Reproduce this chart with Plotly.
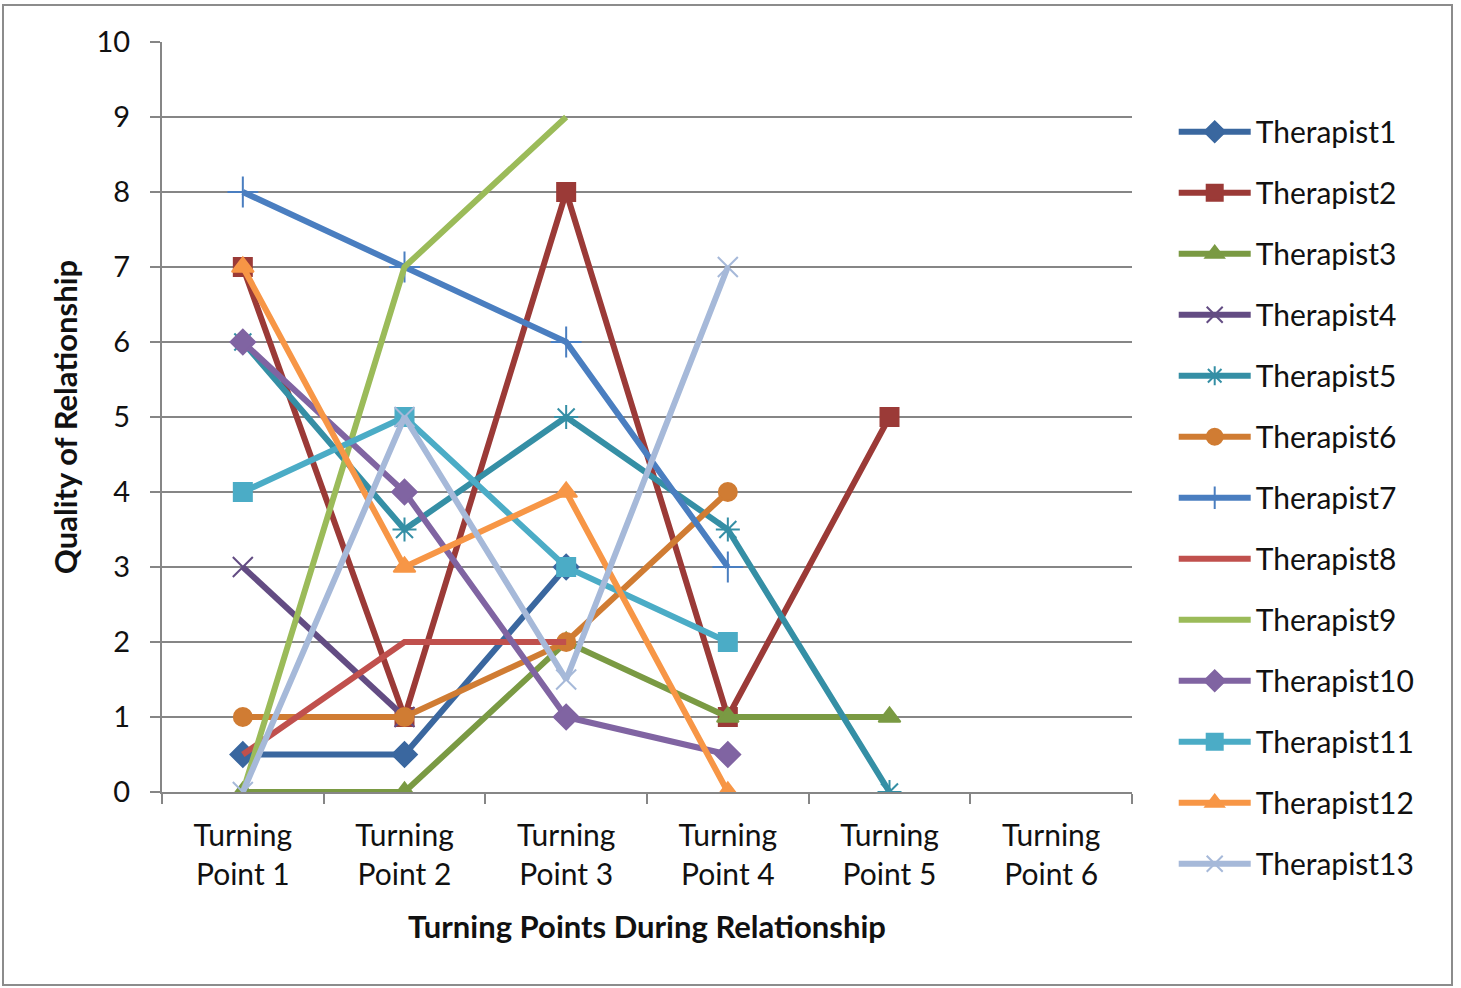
import plotly.graph_objects as go

categories = ["Turning<br>Point 1", "Turning<br>Point 2", "Turning<br>Point 3",
              "Turning<br>Point 4", "Turning<br>Point 5", "Turning<br>Point 6"]

therapist1 = [0.5, 0.5, 3, None, None, None]
therapist2 = [7, 1, 8, 1, 5, None]
therapist3 = [0, 0, 2, 1, 1, None]
therapist4 = [3, 1, None, None, None, None]
therapist5 = [6, 3.5, 5, 3.5, 0, None]
therapist6 = [1, 1, 2, 4, None, None]
therapist7 = [8, 7, 6, 3, None, None]
therapist8 = [0.5, 2, 2, None, None, None]
therapist9 = [0, 7, 9, None, None, None]
therapist10 = [6, 4, 1, 0.5, None, None]
therapist11 = [4, 5, 3, 2, None, None]
therapist12 = [7, 3, 4, 0, None, None]
therapist13 = [0, 5, 1.5, 7, None, None]

names = ["Therapist%d" % i for i in range(1, 14)]
series = [therapist1, therapist2, therapist3, therapist4, therapist5, therapist6,
          therapist7, therapist8, therapist9, therapist10, therapist11, therapist12,
          therapist13]
colors = ["#3A679F", "#9B3A37", "#7A9A43", "#634C83", "#358FA5", "#D07C33",
          "#4A7EC0", "#C0504D", "#9BBB59", "#8064A2", "#4BACC6", "#F79646",
          "#A6B9D9"]
symbols = ["diamond", "square", "triangle-up", "x-thin-open", "asterisk-open", "circle",
           "cross-thin-open", None, None, "diamond", "square", "triangle-up",
           "x-thin-open"]
sizes = [19, 18, 19, 20, 20, 18, 22, 0, 0, 19, 18, 19, 20]

fig = go.Figure()
for name, ys, c, sym, sz in zip(names, series, colors, symbols, sizes):
    if sym is None:
        mode = "lines"
        marker = dict()
    else:
        mode = "lines+markers"
        marker = dict(symbol=sym, size=sz, color=c, line=dict(color=c, width=2))
    fig.add_trace(go.Scatter(
        x=categories, y=ys, name=name, mode=mode, legendgroup=name,
        line=dict(color=c, width=6), marker=marker,
    ))

font_family = "Lato, Open Sans, sans-serif"
fig.update_layout(
    width=1461, height=988,
    margin=dict(l=162, r=329, t=42, b=196, autoexpand=False),
    paper_bgcolor="white", plot_bgcolor="white",
    font=dict(family=font_family, size=30, color="#111111"),
    showlegend=True,
    legend=dict(x=1.043, y=0.915, xanchor="left", yanchor="top",
                font=dict(size=30, color="#111111"), maxheight=950,
                tracegroupgap=19, itemwidth=72, bgcolor="rgba(0,0,0,0)"),
    xaxis=dict(type="category", categoryorder="array", categoryarray=categories,
               range=[-0.5, 5.5], tickson="boundaries", ticks="outside", ticklen=10,
               tickwidth=2, tickcolor="#868686", showline=True, linecolor="#868686",
               linewidth=2, showgrid=False, zeroline=False,
               tickfont=dict(size=30), ticklabelstandoff=16,
               title=dict(text="<b>Turning Points During Relationship</b>",
                          font=dict(size=31), standoff=26)),
    yaxis=dict(range=[0, 10], dtick=1, ticks="outside", ticklen=10, tickwidth=2,
               tickcolor="#868686", showline=True, linecolor="#868686", linewidth=2,
               showgrid=True, gridcolor="#868686", gridwidth=2, zeroline=False,
               tickfont=dict(size=29), ticklabelstandoff=14,
               title=dict(text="<b>Quality of Relationship</b>", font=dict(size=31),
                          standoff=10)),
    shapes=[dict(type="rect", xref="paper", yref="paper",
                 x0=(3 - 162) / 970, x1=(1452 - 162) / 970,
                 y0=(792 - 985) / 750, y1=(792 - 5) / 750,
                 line=dict(color="#8C8C8C", width=2), fillcolor="rgba(0,0,0,0)",
                 layer="below")],
)

fig.write_html("out.html", config={"displayModeBar": False},
               post_script="document.body.style.margin='0';")
